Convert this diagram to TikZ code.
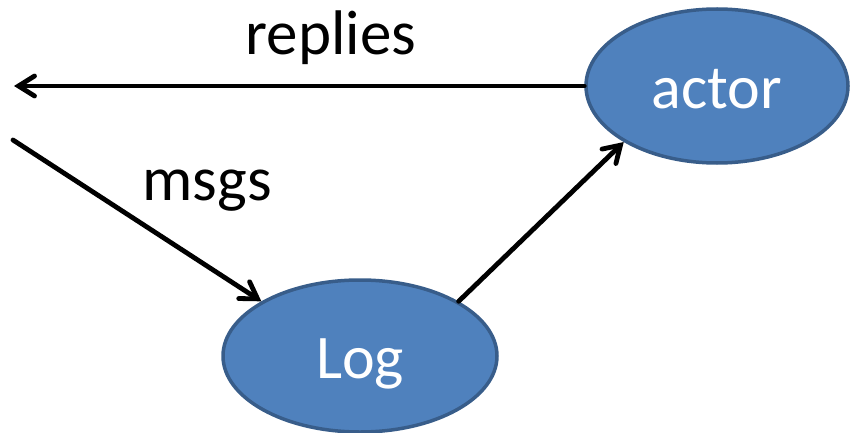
\documentclass[tikz,border=0pt]{standalone}
\usepackage{fontspec}
\setmainfont{Carlito}
\usetikzlibrary{arrows.meta,shapes.geometric}
\definecolor{blobfill}{HTML}{4F81BD}
\definecolor{blobline}{HTML}{385D8A}
\tikzset{
  blob/.style={ellipse, draw=blobline, line width=1.75pt, fill=blobfill,
    text=white, inner sep=0pt, text height=22pt, text depth=0pt,
    font=\fontsize{31}{37}\selectfont},
  flow/.style={line width=2.4pt, line cap=round,
    -{Straight Barb[length=8pt,width=10pt,line cap=round]}},
  tag/.style={font=\fontsize{31.5}{38}\selectfont, inner sep=0pt, anchor=base}
}
\begin{document}
\begin{tikzpicture}[x=0.5pt,y=-0.5pt]
\useasboundingbox (0,0) rectangle (850,433);
\node[blob, minimum width=131pt, minimum height=77pt] (actor) at (717,86) {actor};
\node[blob, minimum width=137pt, minimum height=76pt] (Log) at (360,356) {Log};
\coordinate (out) at (14,86);
\coordinate (in) at (13,140);
\draw[flow] (actor.west) -- (out);
\draw[flow] (in) -- (Log.151);
\draw[flow] (Log.29) -- (actor.211);
\node[tag] (replies) at (331,55) {replies};
\node[tag] (msgs) at (207,200) {msgs};
\end{tikzpicture}
\end{document}
